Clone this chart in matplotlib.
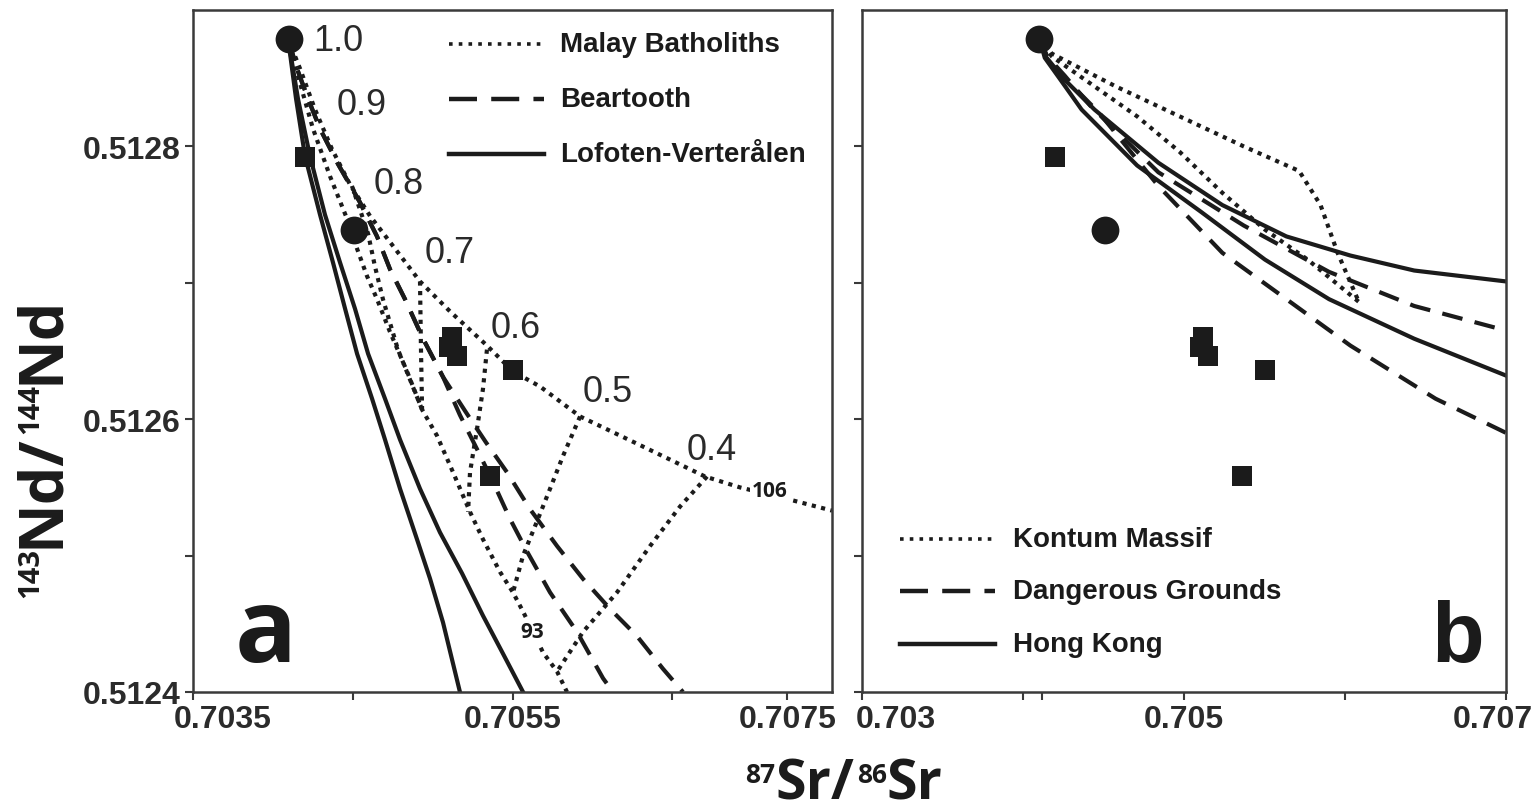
import matplotlib

matplotlib.use("Agg")
import matplotlib.pyplot as plt
import matplotlib.transforms as mtransforms

plt.rcParams["font.family"] = ["Liberation Sans", "DejaVu Sans"]

INK = "#1b1b1b"
AXIS_GREY = "#3a3a3a"

# --- measured samples (same in both panels) ---
circle_sr = [0.70410, 0.70451]
circle_nd = [0.512879, 0.512739]
square_sr = [0.70420, 0.70512, 0.70510, 0.70515, 0.70550, 0.70536]
square_nd = [0.512792, 0.512660, 0.512653, 0.512646, 0.512636, 0.512558]

# --- panel a: Malay Batholiths (dotted) ---
malay_upper_sr = [0.704095, 0.704170, 0.704264, 0.704370, 0.704483, 0.704608, 0.704765, 0.704921, 0.705109,
                  0.705340, 0.705503, 0.705672, 0.705923, 0.706298, 0.706705, 0.706924, 0.707237, 0.707500]
malay_upper_nd = [0.512879, 0.512857, 0.512827, 0.512798, 0.512772, 0.512749, 0.512725, 0.512701, 0.512679,
                  0.512654, 0.512635, 0.512624, 0.512602, 0.512581, 0.512558, 0.512550, 0.512541, 0.512533]
malay_lower_sr = [0.704095, 0.704151, 0.704251, 0.704358, 0.704464, 0.704527, 0.704589, 0.704652, 0.704733,
                  0.704840, 0.704934, 0.705027, 0.705128, 0.705234, 0.705315, 0.705422, 0.705503, 0.705566,
                  0.705691, 0.705779, 0.705841]
malay_lower_nd = [0.512879, 0.512854, 0.512813, 0.512778, 0.512747, 0.512725, 0.512705, 0.512688, 0.512664,
                  0.512635, 0.512607, 0.512588, 0.512561, 0.512532, 0.512512, 0.512488, 0.512473, 0.512459,
                  0.512429, 0.512415, 0.512400]
malay_mid_sr = [0.704495, 0.704596, 0.704639, 0.704689, 0.704783, 0.704934]
malay_mid_nd = [0.512771, 0.512736, 0.512712, 0.512688, 0.512651, 0.512607]

tie_sr = [
    [0.704921, 0.704927, 0.704934],
    [0.705340, 0.705315, 0.705278, 0.705234, 0.705222],
    [0.705923, 0.705816, 0.705735, 0.705653, 0.705566, 0.705503],
    [0.706718, 0.706549, 0.706361, 0.706154, 0.705941, 0.705779],
]
tie_nd = [
    [0.512701, 0.512652, 0.512607],
    [0.512651, 0.512622, 0.512593, 0.512561, 0.512532],
    [0.512602, 0.512573, 0.512549, 0.512525, 0.512500, 0.512473],
    [0.512558, 0.512536, 0.512507, 0.512473, 0.512444, 0.512415],
]
fraction_labels = ["1.0", "0.9", "0.8", "0.7", "0.6", "0.5", "0.4"]
curve_end_labels = ["106", "93"]

# --- panel a: Beartooth (dashed) ---
beartooth_1_sr = [0.704095, 0.704151, 0.704220, 0.704295, 0.704408, 0.704545, 0.704652, 0.704733, 0.704827,
                  0.704940, 0.705065, 0.705171, 0.705278, 0.705378, 0.705484, 0.705591, 0.705735, 0.705904,
                  0.706067, 0.706129]
beartooth_1_nd = [0.512879, 0.512857, 0.512835, 0.512813, 0.512787, 0.512759, 0.512734, 0.512710, 0.512688,
                  0.512659, 0.512631, 0.512603, 0.512578, 0.512554, 0.512527, 0.512503, 0.512473, 0.512444,
                  0.512410, 0.512400]
beartooth_2_sr = [0.704095, 0.704151, 0.704220, 0.704295, 0.704408, 0.704545, 0.704652, 0.704733, 0.704827,
                  0.704940, 0.705065, 0.705209, 0.705334, 0.705466, 0.705610, 0.705779, 0.705941, 0.706110,
                  0.706279, 0.706442, 0.706567]
beartooth_2_nd = [0.512879, 0.512857, 0.512835, 0.512813, 0.512787, 0.512759, 0.512734, 0.512710, 0.512688,
                  0.512659, 0.512631, 0.512605, 0.512583, 0.512561, 0.512534, 0.512507, 0.512483, 0.512461,
                  0.512441, 0.512417, 0.512400]

# --- panel a: Lofoten-Verterålen (solid) ---
lofoten_1_sr = [0.704095, 0.704145, 0.704201, 0.704295, 0.704376, 0.704452, 0.704527, 0.704621, 0.704702,
                0.704796, 0.704902, 0.704984, 0.705065, 0.705171]
lofoten_1_nd = [0.512879, 0.512835, 0.512793, 0.512750, 0.512715, 0.512681, 0.512648, 0.512615, 0.512585,
                0.512549, 0.512512, 0.512483, 0.512451, 0.512400]
lofoten_2_sr = [0.704095, 0.704157, 0.704232, 0.704326, 0.704420, 0.704514, 0.704596, 0.704702, 0.704796,
                0.704921, 0.705046, 0.705184, 0.705315, 0.705441, 0.705566]
lofoten_2_nd = [0.512879, 0.512835, 0.512793, 0.512750, 0.512715, 0.512681, 0.512648, 0.512615, 0.512585,
                0.512549, 0.512517, 0.512487, 0.512456, 0.512428, 0.512400]

# --- panel b ---
kontum_1_sr = [0.704100, 0.704179, 0.704576, 0.704973, 0.705371, 0.705715, 0.705848, 0.705954, 0.706086]
kontum_1_nd = [0.512880, 0.512868, 0.512844, 0.512822, 0.512800, 0.512782, 0.512757, 0.512722, 0.512686]
kontum_2_sr = [0.704100, 0.704179, 0.704444, 0.704709, 0.704973, 0.705238, 0.705503, 0.705768, 0.706086]
kontum_2_nd = [0.512880, 0.512866, 0.512844, 0.512822, 0.512796, 0.512766, 0.512739, 0.512717, 0.512686]
dangerous_1_sr = [0.704100, 0.704150, 0.704258, 0.704417, 0.704841, 0.705371, 0.705901, 0.706430, 0.707000]
dangerous_1_nd = [0.512880, 0.512866, 0.512852, 0.512830, 0.512781, 0.512742, 0.512708, 0.512683, 0.512665]
dangerous_2_sr = [0.704100, 0.704155, 0.704285, 0.704470, 0.704841, 0.705238, 0.705636, 0.706033, 0.706563,
                  0.707000]
dangerous_2_nd = [0.512880, 0.512864, 0.512847, 0.512825, 0.512771, 0.512722, 0.512688, 0.512654, 0.512615,
                  0.512590]
hongkong_1_sr = [0.704100, 0.704140, 0.704258, 0.704444, 0.704841, 0.705238, 0.705636, 0.706033, 0.706430,
                 0.707000]
hongkong_1_nd = [0.512880, 0.512866, 0.512849, 0.512827, 0.512788, 0.512757, 0.512734, 0.512720, 0.512709,
                 0.512701]
hongkong_2_sr = [0.704100, 0.704135, 0.704232, 0.704364, 0.704709, 0.705106, 0.705503, 0.705901, 0.706430,
                 0.707000]
hongkong_2_nd = [0.512880, 0.512865, 0.512849, 0.512827, 0.512786, 0.512752, 0.512717, 0.512688, 0.512659,
                 0.512632]

legend_a = ["Malay Batholiths", "Beartooth", "Lofoten-Verterålen"]
legend_b = ["Kontum Massif", "Dangerous Grounds", "Hong Kong"]

# --- axes ---
nd_ticks = [0.5124, 0.5125, 0.5126, 0.5127, 0.5128]
nd_ticklabels = ["0.5124", "", "0.5126", "", "0.5128"]
sr_ticks_a = [0.7035, 0.7045, 0.7055, 0.7065, 0.70722]
sr_ticklabels_a = ["0.7035", "", "0.7055", "", "0.7075"]
sr_ticks_b = [0.703, 0.704, 0.70412, 0.705, 0.706, 0.707]
sr_ticklabels_b = ["0.703", "", "", "0.705", "", "0.707"]

DOTTED = (0, (1, 1.3))
DASHED = (0, (5, 3))
TICK_FONT = dict(family=["Liberation Sans", "DejaVu Sans"], weight="bold", size=23)


def style_axes(ax, xlim, xticks, xlabels, ylabels):
    ax.set_xlim(*xlim)
    ax.set_ylim(0.5124, 0.5129)
    ax.set_xticks(xticks)
    ax.set_xticklabels(xlabels, **TICK_FONT, color="#2b2b2b")
    ax.set_yticks(nd_ticks)
    ax.set_yticklabels(ylabels, **TICK_FONT, color="#2b2b2b")
    ax.tick_params(direction="out", length=6, width=1.5, color=AXIS_GREY, pad=3)
    for sp in ax.spines.values():
        sp.set_linewidth(1.8)
        sp.set_color(AXIS_GREY)


def shift_ticklabel(fig, tick, dx_px):
    off = mtransforms.ScaledTranslation(dx_px / 100, 0, fig.dpi_scale_trans)
    tick.label1.set_transform(tick.label1.get_transform() + off)


def draw_samples(ax):
    ax.plot(circle_sr, circle_nd, "o", ms=20, color=INK, mew=0, zorder=5)
    ax.plot(square_sr, square_nd, "s", ms=15, color=INK, mew=0, zorder=5)


def draw_legend(ax, labels, x0, x1, xt, rows):
    styles = [dict(ls=(0, (1, 1.7)), lw=2.6), dict(ls=(0, (6.3, 3.2)), lw=3.2), dict(ls="-", lw=3.2)]
    for lab, y, st in zip(labels, rows, styles):
        ax.plot([x0, x1], [y, y], transform=ax.transAxes, color=INK, **st)
        ax.text(xt, y, lab, transform=ax.transAxes, ha="left", va="center",
                fontsize=20, fontweight="bold", color=INK)


def chain_label_x(ax, x, y):
    # 87Sr/86Sr with small raised mass numbers
    big = dict(fontsize=40, fontweight="bold", family="Open Sans", color=INK)
    small = dict(fontsize=19, fontweight="bold", family="Open Sans", color=INK)
    sr1 = ax.figure.text(x, y, "Sr/", ha="left", va="baseline", **big)
    ax.annotate("87", xy=(0, 0.93), xycoords=sr1, ha="right", va="top", annotation_clip=False, **small)
    s86 = ax.annotate("86", xy=(1.03, 0.93), xycoords=sr1, ha="left", va="top", annotation_clip=False, **small)
    ax.annotate("Sr", xy=(1, 0), xycoords=(s86, sr1), ha="left", va="bottom", annotation_clip=False, **big)


def chain_label_y(ax, x, y):
    # 143Nd/144Nd rotated, reading upward
    big = dict(fontsize=44, fontweight="bold", family="Open Sans", color=INK, rotation=90)
    small = dict(fontsize=21, fontweight="bold", family="Open Sans", color=INK, rotation=90)
    nd1 = ax.figure.text(x, y, "Nd/", ha="left", va="bottom", **big)
    ax.annotate("143", xy=(0.07, 0), xycoords=nd1, ha="left", va="top", annotation_clip=False, **small)
    s144 = ax.annotate("144", xy=(0.07, 1.0), xycoords=nd1, ha="left", va="bottom", annotation_clip=False, **small)
    ax.annotate("Nd", xy=(0, 1), xycoords=(nd1, s144), ha="left", va="bottom", annotation_clip=False, **big)


def main():
    fig = plt.figure(figsize=(15.36, 8.12), dpi=100)
    ax_a = fig.add_axes([193 / 1536, 119 / 812, 639 / 1536, 682 / 812])
    ax_b = fig.add_axes([862 / 1536, 119 / 812, 644 / 1536, 682 / 812])

    # panel a
    for sr, nd in [(malay_upper_sr, malay_upper_nd), (malay_lower_sr, malay_lower_nd), (malay_mid_sr, malay_mid_nd)]:
        ax_a.plot(sr, nd, color=INK, lw=3, ls=DOTTED)
    for sr, nd in zip(tie_sr, tie_nd):
        ax_a.plot(sr, nd, color=INK, lw=3, ls=DOTTED)
    for sr, nd in [(beartooth_1_sr, beartooth_1_nd), (beartooth_2_sr, beartooth_2_nd)]:
        ax_a.plot(sr, nd, color=INK, lw=3, ls=DASHED)
    for sr, nd in [(lofoten_1_sr, lofoten_1_nd), (lofoten_2_sr, lofoten_2_nd)]:
        ax_a.plot(sr, nd, color=INK, lw=3, ls="-")
    draw_samples(ax_a)

    frac_x = [0.188, 0.225, 0.282, 0.363, 0.465, 0.610, 0.773]
    frac_y = [0.955, 0.862, 0.745, 0.645, 0.535, 0.440, 0.356]
    for lab, fx, fy in zip(fraction_labels, frac_x, frac_y):
        ax_a.text(fx, fy, lab, transform=ax_a.transAxes, ha="left", va="center",
                  fontsize=26, color="#2a2a2a")
    for lab, fx, fy in zip(curve_end_labels, [0.875, 0.512], [0.295, 0.089]):
        ax_a.text(fx, fy, lab, transform=ax_a.transAxes, ha="left", va="center", fontsize=15,
                  fontweight="bold", family="Open Sans", color=INK, zorder=4,
                  bbox=dict(facecolor="white", edgecolor="none", pad=1.5))

    draw_legend(ax_a, legend_a, 0.40, 0.549, 0.574, [0.950, 0.870, 0.789])
    ax_a.text(0.113, 0.045, "a", transform=ax_a.transAxes, ha="center", va="baseline",
              fontsize=74, fontweight="bold", family="Open Sans", color=INK)
    style_axes(ax_a, (0.7035, 0.7075), sr_ticks_a, sr_ticklabels_a, nd_ticklabels)
    shift_ticklabel(fig, ax_a.xaxis.get_major_ticks()[0], 30)

    # panel b
    for sr, nd in [(kontum_1_sr, kontum_1_nd), (kontum_2_sr, kontum_2_nd)]:
        ax_b.plot(sr, nd, color=INK, lw=3, ls=DOTTED)
    for sr, nd in [(dangerous_1_sr, dangerous_1_nd), (dangerous_2_sr, dangerous_2_nd)]:
        ax_b.plot(sr, nd, color=INK, lw=3, ls=DASHED)
    for sr, nd in [(hongkong_1_sr, hongkong_1_nd), (hongkong_2_sr, hongkong_2_nd)]:
        ax_b.plot(sr, nd, color=INK, lw=3, ls="-")
    draw_samples(ax_b)

    draw_legend(ax_b, legend_b, 0.059, 0.207, 0.234, [0.224, 0.148, 0.070])
    ax_b.text(0.925, 0.045, "b", transform=ax_b.transAxes, ha="center", va="baseline",
              fontsize=62, fontweight="bold", color=INK)
    style_axes(ax_b, (0.703, 0.707), sr_ticks_b, sr_ticklabels_b, [""] * len(nd_ticks))
    shift_ticklabel(fig, ax_b.xaxis.get_major_ticks()[0], 34)
    shift_ticklabel(fig, ax_b.xaxis.get_major_ticks()[-1], -13)

    chain_label_x(ax_a, 0.505, 0.015)
    chain_label_y(ax_a, 0.008, 0.325)

    fig.savefig("out.png", dpi=100)
    plt.close(fig)


if __name__ == "__main__":
    main()
